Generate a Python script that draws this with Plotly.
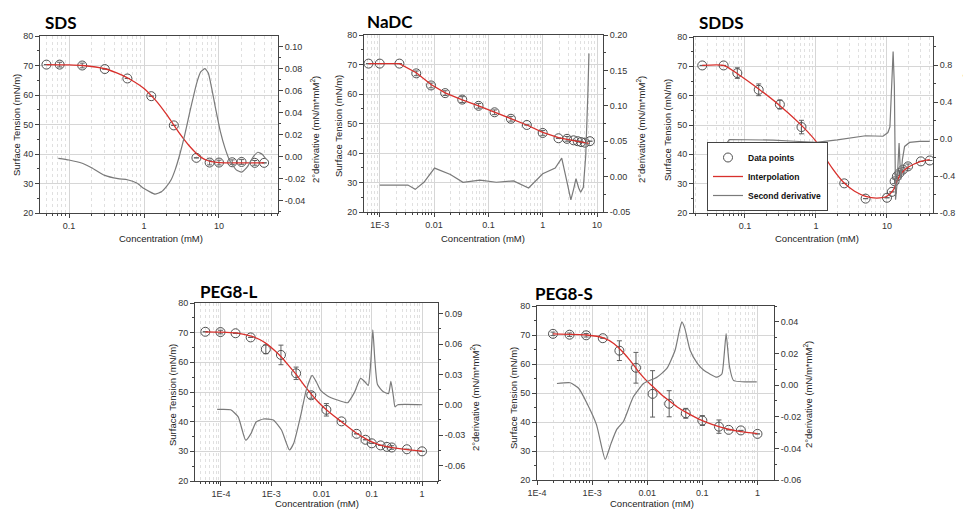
import math
import plotly.graph_objects as go

# ---------------- data ----------------
ST_TICKS = [20, 30, 40, 50, 60, 70, 80]

# SDS
SDS_conc = [0.05, 0.075, 0.15, 0.3, 0.6, 1.25, 2.5, 5.0, 7.5, 10.0, 15.0, 20.0, 30.0, 40.0]
SDS_tension = [70.3, 70.3, 70.0, 68.8, 65.6, 59.6, 49.7, 38.7, 37.1, 37.1, 37.2, 37.3, 37.0, 37.0]
SDS_err = [None, 0.8, 0.8, None, None, None, None, None, 0.8, 0.8, 0.8, 0.8, 0.8, None]
SDS_fit_conc = [0.05, 0.1, 0.15, 0.3, 0.5, 0.75, 1.0, 1.25, 1.5, 2.0, 2.5, 3.0, 3.5, 4.0, 5.0, 6.0, 7.0, 8.0, 10.0, 20.0, 40.0]
SDS_fit_tension = [70.3, 70.2, 70.0, 68.9, 66.8, 64.4, 62.2, 59.8, 57.6, 53.4, 49.8, 46.9, 44.6, 42.8, 40.2, 38.6, 37.8, 37.4, 37.1, 37.0, 37.0]
SDS_d2_conc = [0.072, 0.1, 0.15, 0.2, 0.3, 0.45, 0.6, 0.8, 1.0, 1.2, 1.4, 1.7, 2.0, 2.3, 2.6, 3.0, 3.5, 4.0, 4.5,
               5.0, 5.7, 6.5, 7.2, 8.0, 9.0, 10.5, 12.0, 14.0, 17.0, 20.0, 24.0, 28.0, 33.0, 38.0, 42.0]
SDS_d2_value = [-0.0015, -0.003, -0.006, -0.010, -0.017, -0.020, -0.021, -0.024, -0.029, -0.032, -0.034, -0.032,
                -0.027, -0.021, -0.012, 0.002, 0.020, 0.038, 0.053, 0.066, 0.077, 0.080, 0.076, 0.062, 0.044,
                0.022, 0.008, -0.004, -0.012, -0.014, -0.009, -0.001, 0.004, 0.002, -0.002]
SDS_xticks = [0.1, 1, 10]
SDS_xlabels = ["0.1", "1", "10"]
SDS_d2_ticks = [-0.04, -0.02, 0.0, 0.02, 0.04, 0.06, 0.08, 0.10]
SDS_d2_labels = ["-0.04", "-0.02", "0.00", "0.02", "0.04", "0.06", "0.08", "0.10"]

# NaDC
NaDC_conc = [0.00062, 0.001, 0.0023, 0.0047, 0.0088, 0.016, 0.033, 0.066, 0.13, 0.26, 0.51, 1.0, 1.95, 2.8,
             3.7, 4.4, 5.1, 6.0, 7.4]
NaDC_tension = [70.3, 70.3, 70.3, 67.0, 62.9, 60.3, 58.1, 56.0, 53.8, 51.6, 49.5, 46.8, 45.0, 44.8, 44.3, 44.0,
                43.7, 43.5, 44.0]
NaDC_err = [None, None, None, 0.8, 0.8, 0.8, 1.0, 0.8, 0.8, 0.8, None, 0.8, None, 0.8, None, None, None, None, None]
NaDC_fit_conc = [0.00062, 0.0023, 0.0047, 0.0088, 0.016, 0.033, 0.066, 0.13, 0.26, 0.51, 1.0, 1.95, 2.8, 3.7,
                 4.4, 5.1, 6.0, 7.0]
NaDC_fit_tension = [70.3, 70.3, 67.2, 63.2, 60.4, 58.0, 56.0, 53.9, 51.7, 49.5, 47.0, 45.2, 44.6, 44.2, 44.0,
                    43.7, 43.5, 43.3]
NaDC_d2_conc = [0.001, 0.0033, 0.0045, 0.0065, 0.0102, 0.02, 0.034, 0.07, 0.14, 0.29, 0.55, 1.0, 1.7, 2.24,
                2.7, 3.3, 3.7, 4.1, 4.6, 5.0, 5.6, 6.2, 6.8, 7.1]
NaDC_d2_value = [-0.012, -0.012, -0.018, -0.008, 0.012, 0.003, -0.008, -0.005, -0.008, -0.006, -0.016, 0.004,
                 0.012, 0.026, -0.002, -0.033, -0.018, -0.003, -0.016, -0.022, -0.015, 0.03, 0.12, 0.174]
NaDC_xticks = [0.001, 0.01, 0.1, 1, 10]
NaDC_xlabels = ["1E-3", "0.01", "0.1", "1", "10"]
NaDC_d2_ticks = [-0.05, 0.0, 0.05, 0.10, 0.15, 0.20]
NaDC_d2_labels = ["-0.05", "0.00", "0.05", "0.10", "0.15", "0.20"]

# SDDS
SDDS_conc = [0.025, 0.05, 0.078, 0.156, 0.31, 0.625, 1.25, 2.5, 5.0, 10.0, 11.7, 12.8, 13.8, 15.0, 16.8, 19.8,
             30.0, 40.0]
SDDS_tension = [70.3, 70.3, 67.7, 62.0, 57.0, 49.3, 39.8, 30.1, 24.9, 25.2, 27.2, 30.8, 32.5, 33.6, 34.8, 35.9,
                37.6, 37.9]
SDDS_err = [None, None, 1.8, 2.0, 1.5, 2.3, None, None, None, None, None, 0.8, 0.8, 0.8, 0.8, 0.8, None, None]
SDDS_fit_conc = [0.025, 0.05, 0.078, 0.156, 0.31, 0.63, 1.0, 1.25, 1.75, 2.5, 3.5, 5.0, 7.2, 10.0, 12.3, 14.4,
                 16.8, 19.8, 30.0, 40.0]
SDDS_fit_tension = [70.3, 70.3, 67.5, 62.3, 56.6, 49.8, 44.4, 40.2, 34.8, 30.2, 27.4, 25.7, 25.1, 25.7, 27.9,
                    31.9, 34.2, 35.6, 37.6, 38.2]
SDDS_d2_conc = [0.05, 0.06, 0.1, 0.25, 0.5, 1.0, 2.0, 5.0, 8.8, 10.3, 11.0, 11.5, 12.2, 12.7, 13.2, 13.8, 14.8,
                15.6, 16.5, 17.7, 20.8, 28.8, 40.0]
SDDS_d2_value = [-0.097, -0.007, -0.008, -0.012, -0.024, -0.036, -0.010, 0.035, 0.030, 0.070, 0.130, 0.570,
                 0.947, 0.570, -0.656, -0.500, -0.043, -0.440, -0.220, -0.080, -0.037, -0.026, -0.026]
SDDS_xticks = [0.1, 1, 10]
SDDS_xlabels = ["0.1", "1", "10"]
SDDS_d2_ticks = [-0.8, -0.4, 0.0, 0.4, 0.8]
SDDS_d2_labels = ["-0.8", "-0.4", "0.0", "0.4", "0.8"]

# PEG8-L
PEGL_conc = [0.0000488, 0.0000977, 0.000195, 0.00039, 0.00078, 0.00156, 0.003125, 0.00625, 0.0125, 0.025,
             0.05, 0.075, 0.1, 0.15, 0.2, 0.25, 0.5, 1.0]
PEGL_tension = [70.3, 70.2, 69.8, 68.4, 64.4, 62.5, 56.3, 48.9, 44.0, 40.1, 35.9, 33.9, 32.7, 32.0, 31.5, 31.3,
                30.7, 30.0]
PEGL_err = [None, 0.6, None, None, 1.5, 3.3, 2.1, 1.0, 2.1, None, None, None, None, None, None, 0.6, None, None]
PEGL_fit_conc = [0.0000488, 0.0001, 0.0002, 0.0004, 0.0006, 0.0008, 0.0012, 0.0016, 0.0022, 0.0031, 0.0045,
                 0.00625, 0.009, 0.0125, 0.018, 0.025, 0.035, 0.05, 0.075, 0.1, 0.15, 0.2, 0.3, 0.5, 1.0]
PEGL_fit_tension = [70.3, 70.2, 69.9, 68.8, 67.6, 66.3, 63.8, 61.7, 59.0, 56.0, 52.3, 49.3, 46.3, 44.0, 41.8,
                    40.0, 38.0, 36.1, 34.3, 33.2, 32.1, 31.6, 31.1, 30.6, 30.1]
PEGL_d2_conc = [0.000084, 0.000156, 0.00022, 0.00031, 0.0004, 0.0005, 0.0007, 0.0011, 0.0016, 0.0023, 0.0028,
                0.0038, 0.005, 0.0065, 0.008, 0.0095, 0.013, 0.02, 0.033, 0.045, 0.06, 0.075, 0.085, 0.095,
                0.105, 0.115, 0.13, 0.17, 0.215, 0.24, 0.27, 0.29, 0.33, 1.0]
PEGL_d2_value = [-0.0046, -0.005, -0.012, -0.035, -0.028, -0.017, -0.0141, -0.015, -0.025, -0.0447, -0.038,
                 -0.012, 0.015, 0.029, 0.022, 0.0145, 0.009, 0.005, 0.002, 0.012, 0.026, 0.022, 0.019, 0.040,
                 0.074, 0.045, 0.020, 0.0128, 0.011, 0.023, 0.008, -0.002, 0.0, 0.0]
PEGL_xticks = [0.0001, 0.001, 0.01, 0.1, 1]
PEGL_xlabels = ["1E-4", "1E-3", "0.01", "0.1", "1"]
PEGL_d2_ticks = [-0.06, -0.03, 0.0, 0.03, 0.06, 0.09]
PEGL_d2_labels = ["-0.06", "-0.03", "0.00", "0.03", "0.06", "0.09"]

# PEG8-S
PEGS_conc = [0.000195, 0.00039, 0.00078, 0.0015625, 0.003125, 0.00625, 0.0125, 0.025, 0.05, 0.1, 0.2, 0.3,
             0.5, 1.0]
PEGS_tension = [70.4, 70.1, 69.9, 68.9, 64.6, 58.7, 49.7, 46.3, 43.0, 40.5, 38.4, 37.3, 37.1, 35.9]
PEGS_err = [0.6, 0.6, 0.6, None, 3.4, 5.3, 8.0, 4.5, 1.7, 1.7, 2.3, None, None, None]
PEGS_fit_conc = [0.000195, 0.0008, 0.0016, 0.0025, 0.0035, 0.005, 0.007, 0.01, 0.0125, 0.018, 0.025, 0.035,
                 0.05, 0.075, 0.1, 0.15, 0.2, 0.3, 0.5, 1.0]
PEGS_fit_tension = [70.4, 70.0, 69.0, 67.0, 64.4, 61.0, 57.3, 54.0, 52.3, 49.5, 47.3, 45.2, 43.4, 41.6, 40.5,
                    39.2, 38.4, 37.5, 36.7, 36.0]
PEGS_d2_conc = [0.00023, 0.0004, 0.00057, 0.00081, 0.0012, 0.00173, 0.0022, 0.0028, 0.0037, 0.0056, 0.0086,
                0.015, 0.0227, 0.032, 0.038, 0.0425, 0.048, 0.06, 0.08, 0.105, 0.183, 0.226, 0.25, 0.27, 0.29,
                0.31, 0.367, 0.97]
PEGS_d2_value = [0.001, 0.0015, -0.002, -0.0116, -0.025, -0.047, -0.037, -0.028, -0.023, -0.0074, 0.001, 0.005,
                 0.0105, 0.022, 0.034, 0.040, 0.036, 0.022, 0.014, 0.0095, 0.005, 0.007, 0.020, 0.0326, 0.022,
                 0.012, 0.003, 0.002]
PEGS_xticks = [0.0001, 0.001, 0.01, 0.1, 1]
PEGS_xlabels = ["1E-4", "1E-3", "0.01", "0.1", "1"]
PEGS_d2_ticks = [-0.06, -0.04, -0.02, 0.0, 0.02, 0.04]
PEGS_d2_labels = ["-0.06", "-0.04", "-0.02", "0.00", "0.02", "0.04"]

# ---------------- layout helpers ----------------
W, H = 963, 510
FONT = "Liberation Sans, Arial, sans-serif"
AXC = "#444444"


def fx(p):
    return p / W


def fy(p):
    return 1 - p / H


panels = [
    dict(title="SDS", conc=SDS_conc, st=SDS_tension, err=SDS_err, fcx=SDS_fit_conc, fcy=SDS_fit_tension,
         dcx=SDS_d2_conc, dcy=SDS_d2_value, xt=SDS_xticks, xl=SDS_xlabels, yt=SDS_d2_ticks, yl=SDS_d2_labels,
         box=(40, 278, 36, 213), xr=(-1.387, 1.787), yr=(-0.0512, 0.1097), fshape="spline", dshape="spline",
         tpos=(43, 22.5), lt=(16, 125), xtp=(161, 238), rt=(315, 130), legend=False),
    dict(title="NaDC", conc=NaDC_conc, st=NaDC_tension, err=NaDC_err, fcx=NaDC_fit_conc, fcy=NaDC_fit_tension,
         dcx=NaDC_d2_conc, dcy=NaDC_d2_value, xt=NaDC_xticks, xl=NaDC_xlabels, yt=NaDC_d2_ticks, yl=NaDC_d2_labels,
         box=(364, 603, 35, 212), xr=(-3.29, 1.11), yr=(-0.05, 0.20), fshape="linear", dshape="linear",
         tpos=(365, 21.5), lt=(338, 126), xtp=(483, 238), rt=(641, 130), legend=False),
    dict(title="SDDS", conc=SDDS_conc, st=SDDS_tension, err=SDDS_err, fcx=SDDS_fit_conc, fcy=SDDS_fit_tension,
         dcx=SDDS_d2_conc, dcy=SDDS_d2_value, xt=SDDS_xticks, xl=SDDS_xlabels, yt=SDDS_d2_ticks, yl=SDDS_d2_labels,
         box=(694, 933, 37, 213), xr=(-1.718, 1.648), yr=(-0.8, 1.103), fshape="spline", dshape="linear",
         tpos=(697, 22.5), lt=(667, 130), xtp=(817, 238), rt=(968, 125), legend=True),
    dict(title="PEG8-L", conc=PEGL_conc, st=PEGL_tension, err=PEGL_err, fcx=PEGL_fit_conc, fcy=PEGL_fit_tension,
         dcx=PEGL_d2_conc, dcy=PEGL_d2_value, xt=PEGL_xticks, xl=PEGL_xlabels, yt=PEGL_d2_ticks, yl=PEGL_d2_labels,
         box=(195, 438, 303, 481), xr=(-4.517, 0.318), yr=(-0.0753, 0.1005), fshape="spline", dshape="spline",
         tpos=(198, 291), lt=(172, 395), xtp=(317, 503), rt=(475, 398), legend=False),
    dict(title="PEG8-S", conc=PEGS_conc, st=PEGS_tension, err=PEGS_err, fcx=PEGS_fit_conc, fcy=PEGS_fit_tension,
         dcx=PEGS_d2_conc, dcy=PEGS_d2_value, xt=PEGS_xticks, xl=PEGS_xlabels, yt=PEGS_d2_ticks, yl=PEGS_d2_labels,
         box=(537, 774, 306, 480), xr=(-4.0, 0.30), yr=(-0.06, 0.05), fshape="spline", dshape="spline",
         tpos=(533, 293), lt=(513, 398), xtp=(652, 503), rt=(808, 395), legend=False),
]

fig = go.Figure()
layout = {}
annotations = []

for i, p in enumerate(panels):
    n = i + 1
    xa = "x" if n == 1 else f"x{n}"
    xkey = "xaxis" if n == 1 else f"xaxis{n}"
    li, ri = 2 * i + 1, 2 * i + 2
    ya_l = "y" if li == 1 else f"y{li}"
    ykey_l = "yaxis" if li == 1 else f"yaxis{li}"
    ya_r = f"y{ri}"
    ykey_r = f"yaxis{ri}"
    x0, x1, yt_px, yb_px = p["box"]

    fig.add_trace(go.Scatter(
        x=p["conc"], y=p["st"], mode="markers", xaxis=xa, yaxis=ya_l,
        name="<b>Data points</b>", showlegend=p["legend"], legendrank=1,
        marker=dict(symbol="circle-open", size=9, color="#505050", line=dict(width=1)),
        error_y=dict(type="data", array=p["err"], visible=True, color="#606060", thickness=1, width=2.5)))
    fig.add_trace(go.Scatter(
        x=p["fcx"], y=p["fcy"], mode="lines", xaxis=xa, yaxis=ya_l,
        name="<b>Interpolation</b>", showlegend=p["legend"], legendrank=2,
        line=dict(color="#d8302c", width=1.3, shape=p["fshape"], smoothing=0.6)))
    fig.add_trace(go.Scatter(
        x=p["dcx"], y=p["dcy"], mode="lines", xaxis=xa, yaxis=ya_r,
        name="<b>Second derivative</b>", showlegend=p["legend"], legendrank=3,
        line=dict(color="#7a7a7a", width=1.2, shape=p["dshape"], smoothing=0.5)))

    lo, hi = p["xr"]
    minor_x = []
    for d in range(math.floor(lo), math.ceil(hi) + 1):
        for m in range(2, 10):
            v = m * 10 ** d
            if lo <= math.log10(v) <= hi:
                minor_x.append(v)

    tickfont = dict(family=FONT, size=9, color="#333")
    layout[xkey] = dict(
        type="log", domain=[fx(x0), fx(x1)], range=[lo, hi], anchor=ya_l, automargin=False,
        tickmode="array", tickvals=p["xt"], ticktext=p["xl"], ticks="outside", ticklen=4,
        tickcolor=AXC, showline=True, linecolor=AXC, linewidth=1, mirror=True,
        showgrid=True, gridcolor="#d6d6d6", gridwidth=1, zeroline=False, tickfont=tickfont,
        minor=dict(tickmode="array", tickvals=minor_x, ticks="outside", ticklen=2, tickcolor=AXC,
                   showgrid=True, gridcolor="#e0e0e0", griddash="dot", gridwidth=1))
    layout[ykey_l] = dict(
        domain=[fy(yb_px), fy(yt_px)], range=[20, 80], anchor=xa, automargin=False,
        tickmode="array", tickvals=ST_TICKS, ticktext=[str(v) for v in ST_TICKS],
        ticks="outside", ticklen=4, tickcolor=AXC, showline=True, linecolor=AXC, linewidth=1, mirror=True,
        showgrid=True, gridcolor="#d6d6d6", gridwidth=1, zeroline=False, tickfont=tickfont,
        minor=dict(tickmode="array", tickvals=[v + 5 for v in ST_TICKS[:-1]], ticks="outside", ticklen=2,
                   tickcolor=AXC, showgrid=False))
    yt = p["yt"]
    minor_r = [(a + b) / 2 for a, b in zip(yt[:-1], yt[1:])]
    step = yt[1] - yt[0]
    if yt[-1] + step / 2 <= p["yr"][1]:
        minor_r.append(yt[-1] + step / 2)
    if yt[0] - step / 2 >= p["yr"][0]:
        minor_r.insert(0, yt[0] - step / 2)
    layout[ykey_r] = dict(
        overlaying=ya_l, side="right", anchor=xa, range=list(p["yr"]), automargin=False,
        tickmode="array", tickvals=yt, ticktext=p["yl"], ticks="outside", ticklen=4, tickcolor=AXC,
        showline=True, linecolor=AXC, linewidth=1, showgrid=False, zeroline=False, tickfont=tickfont,
        minor=dict(tickmode="array", tickvals=minor_r, ticks="outside", ticklen=2, tickcolor=AXC,
                   showgrid=False))

    # panel title
    annotations.append(dict(text=f"<b>{p['title']}</b>", x=fx(p["tpos"][0]), y=fy(p["tpos"][1]),
                            xref="paper", yref="paper", xanchor="left", yanchor="middle", showarrow=False,
                            font=dict(family="Lato, Open Sans, sans-serif", size=17, color="#000")))
    # axis titles
    atf = dict(family=FONT, size=9.5, color="#222")
    annotations.append(dict(text="Surface Tension (mN/m)", x=fx(p["lt"][0]), y=fy(p["lt"][1]), xref="paper",
                            yref="paper", xanchor="center", yanchor="middle", textangle=-90, showarrow=False,
                            font=atf))
    annotations.append(dict(text="Concentration (mM)", x=fx(p["xtp"][0]), y=fy(p["xtp"][1]), xref="paper",
                            yref="paper", xanchor="center", yanchor="middle", showarrow=False, font=atf))
    annotations.append(dict(text="2°derivative (mN/m*mM<sup>2</sup>)", x=fx(p["rt"][0]), y=fy(p["rt"][1]),
                            xref="paper", yref="paper", xanchor="center", yanchor="middle", textangle=-90,
                            showarrow=False, font=atf))

layout.update(dict(
    width=W, height=H, margin=dict(l=0, r=0, t=0, b=0, autoexpand=False),
    paper_bgcolor="white", plot_bgcolor="white",
    annotations=annotations,
    legend=dict(x=fx(707), y=fy(211), xanchor="left", yanchor="bottom", bgcolor="white",
                bordercolor=AXC, borderwidth=1, font=dict(family=FONT, size=8.5, color="#111"),
                tracegroupgap=0, itemwidth=30),
    showlegend=True,
))
fig.update_layout(**layout)
fig.write_html("out.html", config={"displayModeBar": False},
               post_script="document.body.style.margin='0px'; document.body.style.overflow='hidden';")
